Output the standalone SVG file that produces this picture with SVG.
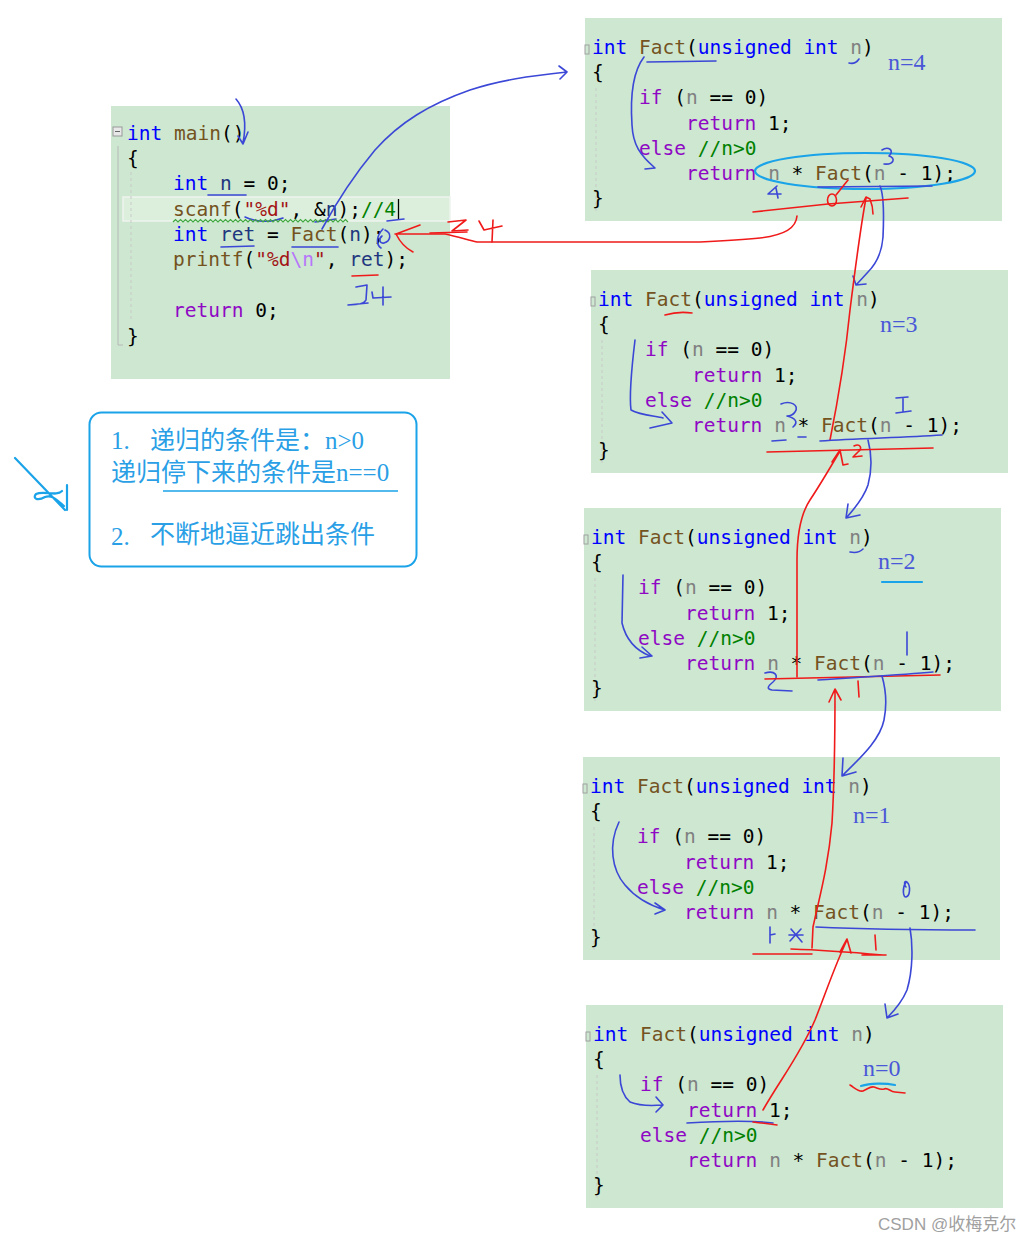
<svg xmlns="http://www.w3.org/2000/svg" width="1030" height="1242" viewBox="0 0 1030 1242">
<style>
.bg{fill:#cde7d0}
.code{font-family:"DejaVu Sans Mono","Liberation Mono",monospace;font-size:19.5px;fill:#000;white-space:pre}
.kw{fill:#0000ff}.fn{fill:#74531f}.pm{fill:#808080}.ct{fill:#8f08c4}.cm{fill:#008000}.st{fill:#a31515}.es{fill:#b776fb}.lv{fill:#1f377f}
.b{fill:none;stroke:#3b47d6;stroke-width:1.6;stroke-linecap:round;stroke-linejoin:round}
.r{fill:none;stroke:#f01a1a;stroke-width:1.6;stroke-linecap:round;stroke-linejoin:round}
.c{fill:none;stroke:#1aa3e8;stroke-width:2.2;stroke-linecap:round;stroke-linejoin:round}
.nl{font-family:"Liberation Serif",serif;font-size:24px;fill:#4a58d8}
.note{font-family:"Liberation Serif","Noto Sans CJK SC",serif;font-size:25px;fill:#2a9fe6}
.gut{fill:none;stroke:#b8b8b8;stroke-width:1}
.dash{fill:none;stroke:#c9c9c9;stroke-width:1;stroke-dasharray:3 3}
</style>
<defs>
<g id="factCode">
<rect class="bg" width="417" height="203"/>
<rect x="0" y="27" width="4" height="9" fill="none" stroke="#a0a0a0" stroke-width="1"/>
<line class="dash" x1="11" y1="70" x2="11" y2="195"/>
<text class="code" x="7" y="36"><tspan class="kw">int</tspan> <tspan class="fn">Fact</tspan>(<tspan class="kw">unsigned</tspan> <tspan class="kw">int</tspan> <tspan class="pm">n</tspan>)</text>
<text class="code" x="7" y="61">{</text>
<text class="code" x="7" y="86">    <tspan class="ct">if</tspan> (<tspan class="pm">n</tspan> == 0)</text>
<text class="code" x="7" y="112">        <tspan class="ct">return</tspan> 1;</text>
<text class="code" x="7" y="137">    <tspan class="ct">else</tspan> <tspan class="cm">//n&gt;0</tspan></text>
<text class="code" x="7" y="162">        <tspan class="ct">return</tspan> <tspan class="pm">n</tspan> * <tspan class="fn">Fact</tspan>(<tspan class="pm">n</tspan> - 1);</text>
<text class="code" x="7" y="187">}</text>
</g>
</defs>

<g id="main">
<rect class="bg" x="111" y="106" width="339" height="273"/>
<rect x="123" y="197" width="327" height="24" fill="#dcefdd" stroke="#eef4ee" stroke-width="1.5"/>
<rect x="113" y="127" width="9" height="9" fill="#e8e8e8" stroke="#999" stroke-width="1"/>
<line x1="115" y1="131.5" x2="120" y2="131.5" stroke="#666" stroke-width="1"/>
<path class="gut" d="M118,146 V345 H123"/>
<line class="dash" x1="131" y1="172" x2="131" y2="322"/>
<text class="code" x="127" y="140"><tspan class="kw">int</tspan> <tspan class="fn">main</tspan>()</text>
<text class="code" x="127" y="165">{</text>
<text class="code" x="173" y="190"><tspan class="kw">int</tspan> <tspan class="lv">n</tspan> = 0;</text>
<text class="code" x="173" y="216"><tspan class="fn">scanf</tspan>(<tspan class="st">"%d"</tspan>, &amp;<tspan class="lv">n</tspan>);<tspan class="cm">//4</tspan></text>
<line x1="398.5" y1="199" x2="398.5" y2="220" stroke="#000" stroke-width="1.3"/>
<text class="code" x="173" y="241"><tspan class="kw">int</tspan> <tspan class="lv">ret</tspan> = <tspan class="fn">Fact</tspan>(<tspan class="lv">n</tspan>);</text>
<text class="code" x="173" y="266"><tspan class="fn">printf</tspan>(<tspan class="st">"%d</tspan><tspan class="es">\n</tspan><tspan class="st">"</tspan>, <tspan class="lv">ret</tspan>);</text>
<text class="code" x="173" y="317"><tspan class="ct">return</tspan> 0;</text>
<text class="code" x="127" y="343">}</text>
</g>

<g id="fact-n4"><use href="#factCode" transform="translate(585,18)"/><text class="nl" x="888" y="70">n=4</text></g>
<g id="fact-n3"><use href="#factCode" transform="translate(591,270)"/><text class="nl" x="880" y="332">n=3</text></g>
<g id="fact-n2"><use href="#factCode" transform="translate(584,508)"/><text class="nl" x="878" y="569">n=2</text></g>
<g id="fact-n1"><use href="#factCode" transform="translate(583,757)"/><text class="nl" x="853" y="823" fill="#6a7de0">n=1</text></g>
<g id="fact-n0"><use href="#factCode" transform="translate(586,1005)"/><text class="nl" x="863" y="1076">n=0</text></g>

<g id="note">
<rect x="89.5" y="412.5" width="327" height="154" rx="12" fill="#fff" stroke="#1aa3e8" stroke-width="2"/>
<text class="note" x="111" y="449">1.</text>
<text class="note" x="150" y="449">递归的条件是：n&gt;0</text>
<text class="note" x="111" y="481">递归停下来的条件是n==0</text>
<line x1="163" y1="491" x2="398" y2="491" stroke="#1aa3e8" stroke-width="1.5"/>
<text class="note" x="111" y="545">2.</text>
<text class="note" x="150" y="543">不断地逼近跳出条件</text>
</g>

<g id="connectors">
<!-- left squiggle -->
<path class="c" stroke-width="1.6" d="M15,458 L65,510 M67,485 L67,510 M62,491 C56,497 44,490 36,494 C32,499 38,501 45,497 C52,494 58,501 64,506"/>
<!-- main annotations -->
<path class="b" d="M236,99 C244,108 247,122 243,143 M238,136 L243,144 L248,132"/>
<path class="b" d="M208,195 L246,195"/>
<path class="b" d="M245,217 C255,222 270,223 283,218"/>
<path class="b" d="M315,222 L336,219"/>
<path class="b" d="M387,221 L404,219"/>
<path fill="none" stroke="#3fa83f" stroke-width="1.2" d="M173,222 l2.5,-2.5 l2.5,2.5 l2.5,-2.5 l2.5,2.5 l2.5,-2.5 l2.5,2.5 l2.5,-2.5 l2.5,2.5 l2.5,-2.5 l2.5,2.5 l2.5,-2.5 l2.5,2.5 l2.5,-2.5 l2.5,2.5 l2.5,-2.5 l2.5,2.5 l2.5,-2.5 l2.5,2.5 l2.5,-2.5 l2.5,2.5 l2.5,-2.5 l2.5,2.5 l2.5,-2.5 l2.5,2.5 l2.5,-2.5 l2.5,2.5 l2.5,-2.5 l2.5,2.5 l2.5,-2.5 l2.5,2.5 l2.5,-2.5 l2.5,2.5 l2.5,-2.5 l2.5,2.5 l2.5,-2.5 l2.5,2.5 l2.5,-2.5 l2.5,2.5 l2.5,-2.5 l2.5,2.5 l2.5,-2.5 l2.5,2.5 l2.5,-2.5 l2.5,2.5 l2.5,-2.5 l2.5,2.5 l2.5,-2.5 l2.5,2.5 l2.5,-2.5 l2.5,2.5 l2.5,-2.5 l2.5,2.5 l2.5,-2.5 l2.5,2.5 l2.5,-2.5 l2.5,2.5 l2.5,-2.5 l2.5,2.5 l2.5,-2.5 l2.5,2.5 l2.5,-2.5 l2.5,2.5 l2.5,-2.5 l2.5,2.5 l2.5,-2.5 l2.5,2.5 l2.5,-2.5 l2.5,2.5 l2.5,-2.5 l2.5,2.5"/>
<path class="b" d="M322,229 C335,205 350,180 375,150 C400,122 430,104 470,90 C500,80 530,76 567,72 M559,66 L567,72 L560,79"/>
<path class="b" d="M221,247 L254,246"/>
<path class="b" d="M292,247 L338,247"/>
<path class="b" d="M383,229 C376,236 376,245 381,248 M385,230 C392,233 391,241 384,243 C380,244 378,239 382,236"/>
<path class="r" d="M352,276 L378,275"/>
<path class="b" d="M356,287 L367,285 L366,300 C364,304 356,305 348,305 L368,303 M372,292 L373,298 L391,297 M383,287 L383,305"/>
<!-- return 24 to main -->
<path class="r" d="M797,216 C796,228 785,235 760,238 C740,240 720,241 700,242 L477,242 C465,239 455,236 445,234 L395,234 M420,225 L396,234 C400,242 405,248 413,252"/>
<path class="r" stroke-width="3" d="M430,233 L467,232"/>
<path class="r" d="M448,222 L466,220 L452,231 L468,230 M479,221 L484,230 L502,226 M493,220 L492,242"/>
<!-- Fact n=4 -->
<path class="b" d="M647,62 L716,61"/>
<path class="b" d="M849,63 C853,64 857,62 859,59"/>
<path class="b" d="M644,57 C634,70 630,95 632,125 C633,145 640,155 655,168 M645,169 L655,168"/>
<ellipse class="c" cx="865" cy="171" rx="110" ry="18"/>
<path class="b" d="M882,150 C888,146 895,150 889,156 C896,158 894,165 884,164"/>
<path class="b" d="M777,186 L768,194 L781,194 M776,188 L778,198"/>
<path class="b" d="M818,187 L932,186"/>
<path class="b" d="M880,186 C884,195 884,215 883,237 C882,250 878,262 868,272 L857,284 M853,276 L856,285 L866,284"/>
<path class="r" d="M753,212 L828,204 L908,198"/>
<ellipse class="r" cx="832" cy="200" rx="4.5" ry="6"/>
<path class="r" d="M836,195 L848,180"/>
<path class="r" d="M830,440 C838,400 845,360 850,310 C855,270 860,230 866,198 M861,207 L866,197 L870,199 C872,204 873,209 873,214"/>
<!-- Fact n=3 -->
<path class="r" d="M665,315 C675,312 685,312 692,313"/>
<path class="b" d="M635,340 C632,365 629,395 631,410 C640,415 655,416 663,418 M662,412 L672,423 L650,428"/>
<path class="b" d="M781,404 C790,400 800,405 795,412 C793,415 790,416 787,416 C795,418 799,422 793,427"/>
<path class="b" d="M772,441 L786,440 M798,437 L806,437"/>
<path class="b" d="M896,398 L908,397 M903,398 L903,412 M896,413 L911,411"/>
<path class="b" d="M820,441 C860,438 900,438 942,435"/>
<path class="b" d="M868,440 C872,455 872,470 868,485 C864,497 856,507 847,517 M848,504 L846,518 L860,515"/>
<path class="r" d="M767,452 L933,448"/>
<path class="r" d="M854,446 C860,443 863,448 858,452 L853,457 L862,456"/>
<path class="r" d="M797,677 L797,560 C797,535 800,515 810,500 C820,485 830,468 840,451 M832,462 L840,450 L843,465 L848,464"/>
<!-- Fact n=2 -->
<path class="b" d="M850,552 C855,553 860,552 863,549"/>
<path class="c" stroke-width="1.6" d="M882,582 L922,582"/>
<path class="b" d="M623,575 L622,623 C626,640 635,650 650,656 M642,647 L652,656 L640,658"/>
<path class="b" d="M765,673 C775,670 780,676 773,682 C768,686 766,689 772,690 L792,691"/>
<path class="b" d="M907,632 L907,655"/>
<path class="r" d="M765,679 L940,675"/>
<path class="b" d="M818,680 C860,677 900,675 933,672"/>
<path class="r" d="M858,681 L859,697"/>
<path class="b" d="M882,676 C886,690 887,705 884,720 C880,740 860,758 843,775 M843,758 L842,776 L856,772"/>
<path class="r" d="M812,948 L813,927 C820,895 828,867 832,823 C834,790 835,740 835,690 M829,702 L835,689 L841,700"/>
<!-- Fact n=1 -->
<path class="b" d="M619,822 C608,845 612,870 625,885 C635,897 648,905 665,910 M655,903 L665,910 L655,914"/>
<path class="b" d="M906,882 C902,888 903,897 906,897 C910,896 911,886 907,882 C905,880 903,884 906,887"/>
<path class="b" d="M770,927 L770,943 M770,935 L775,934"/>
<path class="b" d="M791,929 L802,942 M801,929 L790,941 M789,935 L803,935"/>
<path class="b" d="M816,927 C880,930 930,930 975,930"/>
<path class="r" d="M753,954 L812,954 M791,949 C820,950 860,953 883,955 M875,935 L876,950 M862,955 L886,955"/>
<path class="r" d="M763,1110 C780,1080 800,1055 815,1020 C825,995 835,965 847,940 M840,952 L847,939 L851,953"/>
<path class="b" d="M910,928 C913,945 913,970 907,990 C902,1002 895,1010 887,1018 M885,1004 L887,1018 L898,1014"/>
<!-- Fact n=0 -->
<path class="b" d="M620,1075 C620,1085 622,1095 630,1102 C640,1106 650,1106 662,1105 M656,1097 L663,1105 L656,1112"/>
<path class="b" d="M687,1123 C720,1121 750,1120 773,1123"/>
<path class="r" d="M753,1122 C762,1123 770,1124 777,1125"/>
<path class="c" stroke-width="1.6" d="M861,1086 C870,1083 885,1083 895,1085"/>
<path class="r" d="M850,1085 C855,1088 858,1092 863,1091 C868,1089 870,1086 874,1087 C878,1088 880,1090 884,1089 C888,1087 890,1092 895,1092 L905,1093"/>
</g>

<text x="878" y="1230" font-family="Liberation Sans,'Noto Sans CJK SC',sans-serif" font-size="17" fill="#a0a0a0">CSDN @收梅克尔</text>
</svg>
